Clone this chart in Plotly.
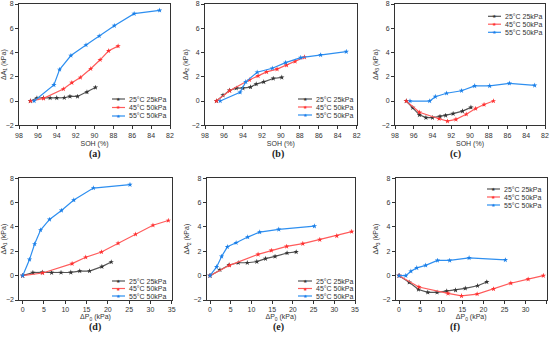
import plotly.graph_objects as go

# ---------------- data ----------------
series_names = ["25°C 25kPa", "45°C 50kPa", "55°C 50kPa"]

soh_25 = [96.8, 96.1, 95.4, 94.7, 94.0, 93.2, 92.6, 91.8, 90.8, 89.9]
soh_45 = [96.8, 95.4, 93.3, 92.4, 91.5, 90.4, 89.4, 88.5, 87.5]
soh_55 = [96.4, 94.3, 93.7, 92.5, 90.9, 89.5, 87.9, 85.8, 83.1]

dp_25 = [0, 2.4, 4.6, 6.8, 9.0, 11.3, 13.4, 15.7, 18.6, 20.8]
dp_45 = [0, 4.7, 11.6, 14.8, 18.5, 22.4, 26.5, 30.6, 34.2]
dp_55 = [0, 1.6, 2.8, 4.2, 6.3, 9.1, 12.0, 16.6, 25.2]

dA1_25 = [0, 0.25, 0.27, 0.25, 0.26, 0.27, 0.38, 0.38, 0.74, 1.12]
dA1_45 = [0, 0.22, 0.99, 1.51, 1.94, 2.66, 3.40, 4.14, 4.53]
dA1_55 = [0, 1.33, 2.60, 3.75, 4.62, 5.36, 6.21, 7.20, 7.48]

dA2_25 = [0, 0.48, 0.88, 1.06, 1.06, 1.15, 1.40, 1.58, 1.86, 1.95]
dA2_45 = [0, 0.85, 1.75, 2.07, 2.40, 2.63, 2.96, 3.27, 3.62]
dA2_55 = [0, 0.72, 1.58, 2.37, 2.70, 3.17, 3.58, 3.80, 4.07]

dA3_25 = [0, -0.55, -1.14, -1.37, -1.37, -1.27, -1.19, -1.04, -0.83, -0.52]
dA3_45 = [0, -0.93, -1.46, -1.66, -1.51, -1.09, -0.62, -0.29, 0.0]
dA3_55 = [0, 0.0, 0.36, 0.64, 0.85, 1.25, 1.25, 1.46, 1.29]

soh_ticks = [98, 96, 94, 92, 90, 88, 86, 84, 82]
dp_ticks = [0, 5, 10, 15, 20, 25, 30, 35]
da_ticks = [-2, 0, 2, 4, 6, 8]
captions = ["(a)", "(b)", "(c)", "(d)", "(e)", "(f)"]

# ---------------- styling ----------------
W, H = 550, 339
line_cols = ["#555555", "#FF5C5C", "#2E8FF0"]
mark_cols = ["#333333", "#FF3030", "#1A7FE8"]
mark_sizes = [4, 4, 4]

def px(x):
    return x / W

def py(y):
    return 1 - y / H

panels = [
    dict(xd=(19, 170), yd=(4, 125.3), x=[soh_25, soh_45, soh_55], y=[dA1_25, dA1_45, dA1_55], yt="ΔA<sub>1</sub> (kPa)", kind="soh"),
    dict(xd=(205, 356.7), yd=(4, 125.3), x=[soh_25, soh_45, soh_55], y=[dA2_25, dA2_45, dA2_55], yt="ΔA<sub>2</sub> (kPa)", kind="soh"),
    dict(xd=(395, 545), yd=(4, 125.3), x=[soh_25, soh_45, soh_55], y=[dA3_25, dA3_45, dA3_55], yt="ΔA<sub>3</sub> (kPa)", kind="soh"),
    dict(xd=(19.3, 171.7), yd=(178.3, 300), x=[dp_25, dp_45, dp_55], y=[dA1_25, dA1_45, dA1_55], yt="ΔA<sub>1</sub> (kPa)", kind="dp"),
    dict(xd=(206.7, 355), yd=(178.3, 300), x=[dp_25, dp_45, dp_55], y=[dA2_25, dA2_45, dA2_55], yt="ΔA<sub>2</sub> (kPa)", kind="dp"),
    dict(xd=(395.7, 546.7), yd=(178.3, 300), x=[dp_25, dp_45, dp_55], y=[dA3_25, dA3_45, dA3_55], yt="ΔA<sub>3</sub> (kPa)", kind="dp"),
]

legend_pos = [
    (112, 125, [99, 107.5, 116]),
    (298, 312, [99, 107, 115]),
    (488, 501, [16.3, 24.2, 32.3]),
    (112, 125, [281, 288.5, 296]),
    (298, 312, [281, 288.5, 296]),
    (487, 500, [189, 197, 205]),
]
caption_pos = [(95, 154), (278, 154), (455, 154), (95, 327), (278, 327), (455, 327)]

fig = go.Figure()
layout = dict(
    width=W, height=H, margin=dict(l=0, r=0, t=0, b=0, autoexpand=False),
    paper_bgcolor="white", plot_bgcolor="white", showlegend=False,
    font=dict(family="Liberation Sans, Arial, sans-serif", size=7, color="#333333"),
)
annotations = []
shapes = []

for i, p in enumerate(panels):
    n = i + 1
    xa = "x" if n == 1 else f"x{n}"
    ya = "y" if n == 1 else f"y{n}"
    for k in range(3):
        fig.add_trace(go.Scatter(
            x=p["x"][k], y=p["y"][k], mode="lines+markers", name=series_names[k],
            xaxis=xa, yaxis=ya,
            line=dict(color=line_cols[k], width=1.2),
            marker=dict(symbol="star", size=mark_sizes[k], color=mark_cols[k], line=dict(width=0)),
        ))
    axcommon = dict(showgrid=False, zeroline=False, showline=True, linecolor="#333333", linewidth=0.8,
                    mirror=True, ticks="outside", ticklen=3, tickwidth=0.8, tickcolor="#333333",
                    tickfont=dict(size=7, color="#333333"), automargin=False)
    if p["kind"] == "soh":
        xax = dict(range=[98, 82], tickvals=soh_ticks, title=dict(text="SOH (%)", standoff=3, font=dict(size=7)))
    else:
        xax = dict(range=[-0.8, 35], tickvals=dp_ticks, title=dict(text="ΔP<sub>0</sub> (kPa)", standoff=1, font=dict(size=7)))
    xax.update(axcommon)
    xax.update(domain=[px(p["xd"][0]), px(p["xd"][1])], anchor=ya)
    yax = dict(range=[-2, 8], tickvals=da_ticks, title=dict(text=p["yt"], standoff=2, font=dict(size=7)))
    yax.update(axcommon)
    yax.update(domain=[py(p["yd"][1]), py(p["yd"][0])], anchor=xa)
    layout["xaxis" if n == 1 else f"xaxis{n}"] = xax
    layout["yaxis" if n == 1 else f"yaxis{n}"] = yax

    lx0, lx1, rows = legend_pos[i]
    for k in range(3):
        yy = py(rows[k])
        shapes.append(dict(type="line", xref="paper", yref="paper", x0=px(lx0), x1=px(lx1), y0=yy, y1=yy,
                           line=dict(color=line_cols[k], width=1.2)))
        annotations.append(dict(xref="paper", yref="paper", x=px((lx0 + lx1) / 2), y=yy, text="★",
                                showarrow=False, font=dict(size=5, color=mark_cols[k]),
                                xanchor="center", yanchor="middle"))
        annotations.append(dict(xref="paper", yref="paper", x=px(lx1 + 2), y=yy, text=series_names[k],
                                showarrow=False, font=dict(size=7, color="#333333"),
                                xanchor="left", yanchor="middle"))
    cx, cy = caption_pos[i]
    annotations.append(dict(xref="paper", yref="paper", x=px(cx), y=py(cy), text=f"<b>{captions[i]}</b>",
                            showarrow=False, font=dict(family="Liberation Serif, serif", size=10, color="#222222"),
                            xanchor="center", yanchor="middle"))

layout["annotations"] = annotations
layout["shapes"] = shapes
fig.update_layout(**layout)
fig.write_html("out.html", config={"displayModeBar": False},
               post_script="document.body.style.margin='0';document.body.style.padding='0';")
